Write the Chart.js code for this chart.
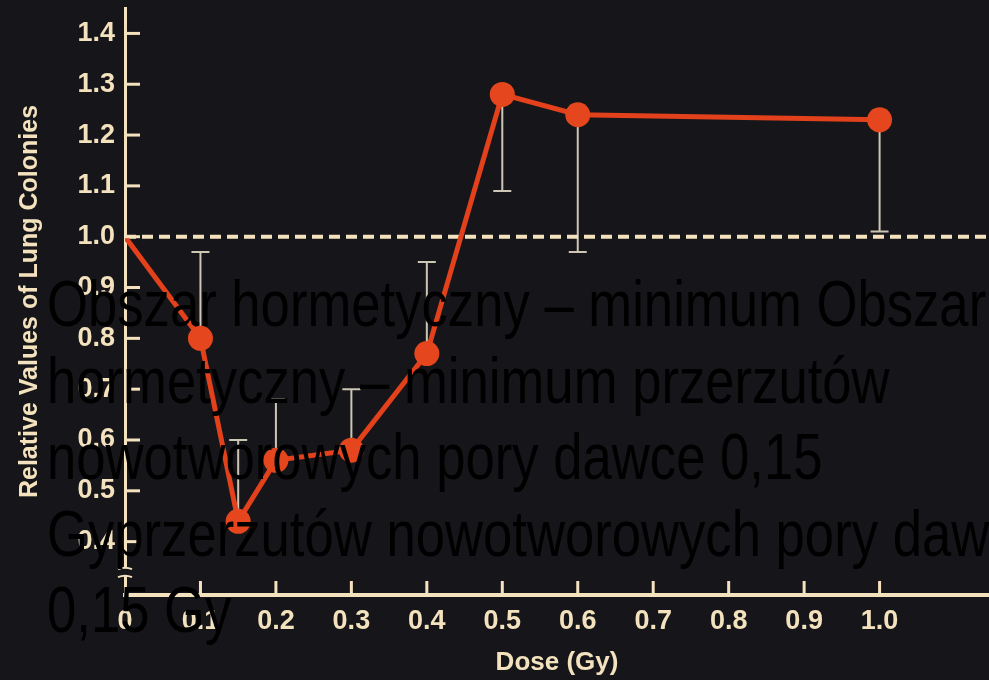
<!DOCTYPE html>
<html>
<head>
<meta charset="utf-8">
<script src="https://cdn.jsdelivr.net/npm/chart.js@4.4.1/dist/chart.umd.min.js"></script>
<style>
  html, body { margin: 0; padding: 0; background: #16161a; overflow: hidden; }
  #wrap { position: relative; width: 989px; height: 680px; }
  #note {
    position: absolute; left: 47px; top: 266px;
    font-family: 'Liberation Sans', Arial, sans-serif;
    font-size: 65px; line-height: 76.6px; color: #000;
    white-space: nowrap;
    transform: scaleX(0.81); transform-origin: 0 0;
  }
</style>
</head>
<body>
<div id="wrap">
  <canvas id="chart" width="989" height="680"></canvas>
  <div id="note">Obszar hormetyczny – minimum Obszar<br>hormetyczny – minimum przerzutów<br>nowotworowych pory dawce 0,15<br>Gyprzerzutów nowotworowych pory dawce<br>0,15 Gy</div>
</div>
<script>
// dose (Gy) vs relative lung colonies
const doses = [0, 0.1, 0.15, 0.2, 0.3, 0.4, 0.5, 0.6, 1.0];
const colonies = [1.0, 0.80, 0.44, 0.56, 0.58, 0.77, 1.28, 1.24, 1.23];
// one-sided error bars: end value of each bar
const errorEnds = [null, 0.97, 0.60, 0.68, 0.70, 0.95, 1.09, 0.97, 1.01];

const xTicks = [0, 0.1, 0.2, 0.3, 0.4, 0.5, 0.6, 0.7, 0.8, 0.9, 1.0];
const xTickLabels = ['0', '0.1', '0.2', '0.3', '0.4', '0.5', '0.6', '0.7', '0.8', '0.9', '1.0'];
const yTicks = [0.4, 0.5, 0.6, 0.7, 0.8, 0.9, 1.0, 1.1, 1.2, 1.3, 1.4];
const baseline = 1.0;
const yBreak = 0.34;

const cream = '#f3e2bd';
const font = "'Liberation Sans', Arial, sans-serif";

const errorBars = {
    id: 'errorBars',
    beforeDatasetsDraw(chart) {
        const { ctx, scales: { x, y } } = chart;
        ctx.save();
        ctx.strokeStyle = '#cdc6b4';
        ctx.lineWidth = 2;
        doses.forEach((d, i) => {
            if (errorEnds[i] == null) return;
            const px = x.getPixelForValue(d);
            const y0 = y.getPixelForValue(colonies[i]);
            const y1 = y.getPixelForValue(errorEnds[i]);
            ctx.beginPath();
            ctx.moveTo(px, y0);
            ctx.lineTo(px, y1);
            ctx.moveTo(px - 9, y1);
            ctx.lineTo(px + 9, y1);
            ctx.stroke();
        });
        ctx.restore();
    },
};

// tick marks point inward, plus the little break on the y axis
const axisMarks = {
    id: 'axisMarks',
    afterDraw(chart) {
        const { ctx, scales: { x, y } } = chart;
        ctx.save();
        ctx.strokeStyle = cream;
        ctx.lineWidth = 3;
        const ax = x.left;
        const ay = y.bottom;
        y.ticks.forEach((t) => {
            const py = y.getPixelForValue(t.value);
            ctx.beginPath();
            ctx.moveTo(ax, py);
            ctx.lineTo(ax + 15, py);
            ctx.stroke();
        });
        x.ticks.forEach((t) => {
            if (t.value === 0) return;
            const px = x.getPixelForValue(t.value);
            ctx.beginPath();
            ctx.moveTo(px, ay);
            ctx.lineTo(px, ay - 14);
            ctx.stroke();
        });
        const by = y.getPixelForValue(yBreak);
        ctx.fillStyle = '#16161a';
        ctx.fillRect(ax - 4, by - 4, 8, 8);
        ctx.lineWidth = 2;
        [-4, 4].forEach((o) => {
            ctx.beginPath();
            ctx.moveTo(ax - 7, by + o + 1);
            ctx.quadraticCurveTo(ax, by + o - 2, ax + 7, by + o + 1);
            ctx.stroke();
        });
        ctx.restore();
    },
};

new Chart(document.getElementById('chart'), {
    type: 'line',
    data: {
        datasets: [
            {
                data: doses.map((d, i) => ({ x: d, y: colonies[i] })),
                borderColor: '#e2411b',
                borderWidth: 5,
                pointRadius: doses.map((d) => (d === 0 ? 0 : 12.5)),
                pointBackgroundColor: '#e5461d',
                pointBorderWidth: 0,
                tension: 0,
                order: 1,
            },
            {
                data: [{ x: 0, y: baseline }, { x: 1.145, y: baseline }],
                borderColor: cream,
                borderWidth: 4,
                borderDash: [11, 6],
                pointRadius: 0,
                order: 2,
            },
        ],
    },
    options: {
        responsive: false,
        animation: false,
        layout: { autoPadding: false, padding: { top: 8, left: 0, right: 0, bottom: 0 } },
        plugins: {
            legend: { display: false },
            tooltip: { enabled: false },
        },
        scales: {
            x: {
                type: 'linear',
                min: 0,
                max: 1.145,
                afterBuildTicks: (scale) => {
                    scale.ticks = xTicks.map((v) => ({ value: v }));
                },
                afterFit: (scale) => {
                    scale.height = 85;
                    scale.paddingLeft = 0;
                    scale.paddingRight = 0;
                },
                grid: { display: false, drawTicks: false },
                border: { display: true, color: cream, width: 4 },
                ticks: {
                    color: cream,
                    padding: 10,
                    maxRotation: 0,
                    autoSkip: false,
                    font: { family: font, size: 27, weight: 'bold' },
                    callback: (value, index) => xTickLabels[index],
                },
                title: {
                    display: true,
                    text: 'Dose (Gy)',
                    color: cream,
                    padding: { top: 0, bottom: 2 },
                    font: { family: font, size: 26, weight: 'bold' },
                },
            },
            y: {
                min: 0.295,
                max: 1.45,
                afterBuildTicks: (scale) => {
                    scale.ticks = yTicks.map((v) => ({ value: v }));
                },
                afterFit: (scale) => {
                    scale.width = 125;
                    scale.paddingTop = 0;
                    scale.paddingBottom = 0;
                },
                grid: { display: false, drawTicks: false },
                border: { display: true, color: cream, width: 3 },
                ticks: {
                    color: cream,
                    padding: 10,
                    font: { family: font, size: 27, weight: 'bold' },
                    callback: (value) => value.toFixed(1),
                },
                title: {
                    display: true,
                    text: 'Relative Values of Lung Colonies',
                    color: cream,
                    padding: { top: 15, bottom: 0 },
                    font: { family: font, size: 25, weight: 'bold' },
                },
            },
        },
    },
    plugins: [errorBars, axisMarks],
});
</script>
</body>
</html>
